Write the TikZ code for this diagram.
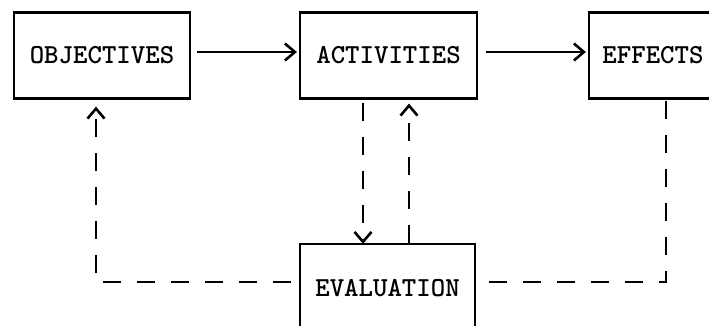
\documentclass[tikz,border=0pt]{standalone}
\usepackage{fontspec}
\usetikzlibrary{arrows.meta}
\begin{document}
\begin{tikzpicture}[x=1pt,y=-1pt,
  box/.style={draw,line width=2.2pt,inner sep=0pt,font=\ttfamily\bfseries\fontsize{27.5}{30}\selectfont},
  tip/.style={-{Straight Barb[length=10pt,width=17pt,line width=2.6pt]}},
  flow/.style={line width=1.6pt,tip},
  fb/.style={line width=2.4pt,dash pattern=on 18pt off 16pt},
  fbarrow/.style={fb,tip}]
\useasboundingbox (0,0) rectangle (709,326);
\node[box,minimum width=176pt,minimum height=86pt] (obj) at (102,55.5) {OBJECTIVES};
\node[box,minimum width=177pt,minimum height=86pt] (act) at (388.5,55.5) {ACTIVITIES};
\node[box,minimum width=128pt,minimum height=86pt] (eff) at (653,55.5) {EFFECTS};
\node[box,minimum width=175pt,minimum height=88pt] (eval) at (387.5,288) {EVALUATION};
\draw[flow] ([xshift=6pt,yshift=3.5pt]obj.east) -- ([xshift=-2pt,yshift=3.5pt]act.west);
\draw[flow] ([xshift=8pt,yshift=3.5pt]act.east) -- ([xshift=-2pt,yshift=3.5pt]eff.west);
\draw[fbarrow] ([xshift=-25.5pt,yshift=-3pt]act.south) -- ([xshift=-24.5pt,yshift=-1pt]eval.north);
\draw[fbarrow] ([xshift=21.5pt]eval.north) -- ([xshift=20.5pt,yshift=-4pt]act.south);
\draw[fb] ([xshift=13pt,yshift=-1pt]eff.south) |- ([xshift=10pt,yshift=6pt]eval.east);
\draw[fbarrow] ([xshift=-8pt,yshift=6pt]eval.west) -| ([xshift=-6pt,yshift=-7pt]obj.south);
\end{tikzpicture}
\end{document}
